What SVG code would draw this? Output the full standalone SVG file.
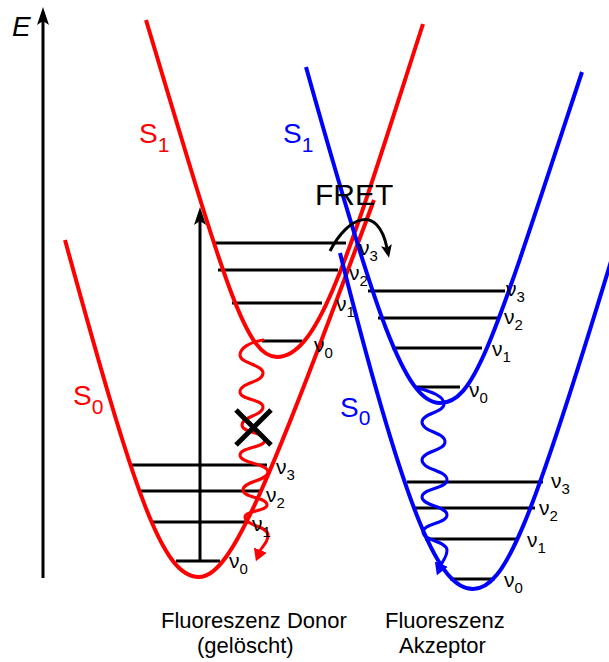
<svg xmlns="http://www.w3.org/2000/svg" width="609" height="662" viewBox="0 0 609 662">
<style>
.lvl{stroke:#000;stroke-width:3;fill:none}
.red{stroke:#f00;stroke-width:4;fill:none}
.blue{stroke:#00f;stroke-width:4;fill:none}
.wr{stroke:#f00;stroke-width:3;fill:none;stroke-linecap:round}
.wb{stroke:#00f;stroke-width:3;fill:none;stroke-linecap:round}
.blk{stroke:#000;stroke-width:3;fill:none}
text{font-family:"Liberation Sans",Arial,sans-serif}
.nu{font-size:21px;fill:#000}
.nu tspan{font-size:15px}
.sr{font-size:28px;fill:#f00}
.sb{font-size:28px;fill:#00f}
.lab{font-size:22px;fill:#000}
</style>
<defs>
<marker id="ah" viewBox="0 0 18 12" markerWidth="18" markerHeight="12" refX="4" refY="6" orient="auto" markerUnits="userSpaceOnUse"><path d="M0,0 L18,6 L0,12 L4,6 Z" fill="#000"/></marker>
<marker id="ahs" viewBox="0 0 13 11" markerWidth="13" markerHeight="11" refX="3" refY="5.5" orient="auto" markerUnits="userSpaceOnUse"><path d="M0,0 L13,5.5 L0,11 L3,5.5 Z" fill="#000"/></marker>
<marker id="ahr" viewBox="0 0 12 14" markerWidth="12" markerHeight="14" refX="1" refY="7" orient="auto" markerUnits="userSpaceOnUse"><path d="M0,0 L12,7 L0,14 Z" fill="#f00"/></marker>
<marker id="ahb" viewBox="0 0 12 14" markerWidth="12" markerHeight="14" refX="1" refY="7" orient="auto" markerUnits="userSpaceOnUse"><path d="M0,0 L12,7 L0,14 Z" fill="#00f"/></marker>
</defs>
<rect width="609" height="662" fill="#fff"/>

<g id="energy-axis">
<line class="blk" x1="43" y1="578" x2="43" y2="21" marker-end="url(#ah)"/>
<text x="12" y="36" font-size="28" font-style="italic">E</text>
</g>

<g id="donor-S0-levels">
<line class="lvl" x1="132" y1="465" x2="267" y2="465"/>
<line class="lvl" x1="140" y1="491" x2="260" y2="491"/>
<line class="lvl" x1="153" y1="522" x2="248" y2="522"/>
<line class="lvl" x1="176" y1="561" x2="220" y2="561"/>
</g>
<g id="donor-S1-levels">
<line class="lvl" x1="213" y1="243" x2="346" y2="243"/>
<line class="lvl" x1="218" y1="270" x2="338" y2="270"/>
<line class="lvl" x1="232" y1="303" x2="322" y2="303"/>
<line class="lvl" x1="262" y1="341" x2="302" y2="341"/>
</g>
<g id="acceptor-S1-levels">
<line class="lvl" x1="368" y1="291" x2="505" y2="291"/>
<line class="lvl" x1="378" y1="318" x2="500" y2="318"/>
<line class="lvl" x1="392" y1="348" x2="482" y2="348"/>
<line class="lvl" x1="415" y1="387" x2="460" y2="387"/>
</g>
<g id="acceptor-S0-levels">
<line class="lvl" x1="407" y1="482" x2="543" y2="482"/>
<line class="lvl" x1="415" y1="508" x2="535" y2="508"/>
<line class="lvl" x1="425" y1="539" x2="518" y2="539"/>
<line class="lvl" x1="450" y1="579" x2="495" y2="579"/>
</g>

<g id="donor-S0">
<path class="red" d="M65,240 C135,495 162,577 199,577 C232,577 270,480 374,200"/>
<text class="sr" x="73" y="405">S<tspan dy="9" font-size="21">0</tspan></text>
</g>
<g id="donor-S1">
<path class="red" d="M146,20 C224,280 245,357 277,357 C320,357 350,250 423,24"/>
<text class="sr" x="139" y="143">S<tspan dy="9" font-size="21">1</tspan></text>
</g>
<g id="acceptor-S1">
<path class="blue" d="M306,67 C376,317 405,403 440,403 C475,403 493,342 582,72"/>
<text class="sb" x="283" y="143">S<tspan dy="9" font-size="21">1</tspan></text>
</g>
<g id="acceptor-S0">
<path class="blue" d="M340,253 C408,523 440,589 473,589 C505,589 531,525 612,258"/>
<text class="sb" x="340" y="417">S<tspan dy="8" font-size="21">0</tspan></text>
</g>

<g id="connectors">
<line class="blk" x1="200" y1="561" x2="200" y2="221" marker-end="url(#ah)"/>
<path class="wr" d="M263,340 C250,342 240,348 240,355 C240,364 263,364 263,373 C263,383 240,382 240,392 C240,400 263,399 263,407 C263,416 242,416 242,425 C242,433 265,432 265,440 C265,448 240,447 240,455 C240,464 268,463 268,472 C268,481 243,481 243,490 C243,498 267,497 267,505 C267,511 245,511 245,517 C245,526 268,526 268,535 C268,543 262,546 260,551" marker-end="url(#ahr)"/>
<path class="wb" d="M418,388 C432,392 444,396 444,404 C444,413 422,413 422,422 C422,432 445,432 445,442 C445,451 422,451 422,460 C422,470 447,470 447,480 C447,489 422,488 422,497 C422,506 447,506 447,515 C447,524 423,523 423,532 C423,541 447,541 447,550 C447,557 443,560 441,565" marker-end="url(#ahb)"/>
<path class="blk" d="M330,251 C348,216 378,204 387,248" marker-end="url(#ahs)"/>
<line x1="236" y1="410" x2="271" y2="445" stroke="#000" stroke-width="5"/>
<line x1="271" y1="410" x2="236" y2="445" stroke="#000" stroke-width="5"/>
</g>

<g id="labels">
<text x="315" y="205" font-size="30">FRET</text>
<text class="nu" x="359" y="255">ν<tspan dy="6">3</tspan></text>
<text class="nu" x="349" y="280">ν<tspan dy="6">2</tspan></text>
<text class="nu" x="336" y="311">ν<tspan dy="6">1</tspan></text>
<text class="nu" x="314" y="352">ν<tspan dy="6">0</tspan></text>
<text class="nu" x="276" y="474">ν<tspan dy="6">3</tspan></text>
<text class="nu" x="266" y="502">ν<tspan dy="6">2</tspan></text>
<text class="nu" x="252" y="531">ν<tspan dy="6">1</tspan></text>
<text class="nu" x="229" y="568">ν<tspan dy="6">0</tspan></text>
<text class="nu" x="506" y="296">ν<tspan dy="6">3</tspan></text>
<text class="nu" x="504" y="324">ν<tspan dy="6">2</tspan></text>
<text class="nu" x="492" y="356">ν<tspan dy="6">1</tspan></text>
<text class="nu" x="469" y="397">ν<tspan dy="6">0</tspan></text>
<text class="nu" x="551" y="488">ν<tspan dy="6">3</tspan></text>
<text class="nu" x="539" y="515">ν<tspan dy="6">2</tspan></text>
<text class="nu" x="527" y="547">ν<tspan dy="6">1</tspan></text>
<text class="nu" x="504" y="587">ν<tspan dy="6">0</tspan></text>
<text class="lab" x="161" y="628">Fluoreszenz Donor</text>
<text class="lab" x="197" y="653">(gelöscht)</text>
<text class="lab" x="385" y="628">Fluoreszenz</text>
<text class="lab" x="399" y="653">Akzeptor</text>
</g>
</svg>
